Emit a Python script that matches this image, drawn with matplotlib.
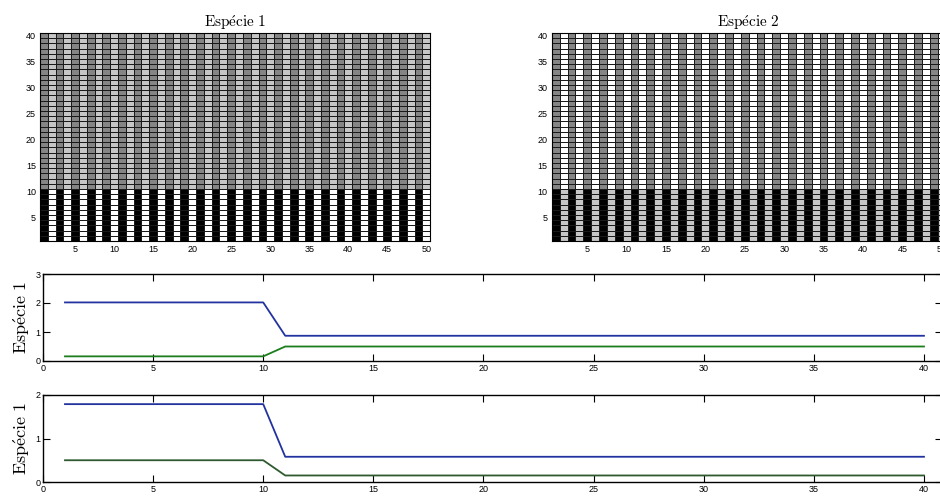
import matplotlib
matplotlib.use('Agg')
import matplotlib.pyplot as plt
from matplotlib.colors import ListedColormap
import numpy as np

plt.rcParams['mathtext.fontset'] = 'cm'
plt.rcParams['font.family'] = ['Liberation Sans', 'DejaVu Sans']

# grade de ocupacao: 40 linhas x 50 colunas
n_linhas = 40
n_colunas = 50
linha_fronteira = 10  # linhas 1..10 = regiao de baixo

# codigo de cor por coluna (impar, par): 0 preto, 1 cinza escuro, 2 cinza claro, 3 branco
esp1_baixo = [0, 3]
esp1_cima = [1, 2]
esp2_baixo = [0, 2]
esp2_cima = [1, 3]

# series temporais (pontos de quebra; constantes entre eles)
t_pontos = [1, 10, 11, 40]
esp1_azul = [2.02, 2.02, 0.87, 0.87]
esp1_verde = [0.16, 0.16, 0.50, 0.50]
esp2_azul = [1.79, 1.79, 0.58, 0.58]
esp2_verde = [0.50, 0.50, 0.15, 0.15]

cores_grade = ListedColormap(['#000000', '#858585', '#c6c6c6', '#ffffff'])


def montar_grade(baixo, cima):
    grade = np.zeros((n_linhas, n_colunas))
    for j in range(n_colunas):
        grade[:linha_fronteira, j] = baixo[j % 2]
        grade[linha_fronteira:, j] = cima[j % 2]
    return grade


def desenhar_grade(ax, grade, titulo):
    ax.pcolormesh(np.arange(0.5, n_colunas + 1), np.arange(0.5, n_linhas + 1), grade,
                  cmap=cores_grade, vmin=-0.5, vmax=3.5,
                  edgecolors='#1a1a1a', linewidth=0.6)
    ax.set_xlim(0.5, n_colunas + 0.5)
    ax.set_ylim(0.5, n_linhas + 0.5)
    ax.set_xticks(np.arange(5, 51, 5))
    ax.set_yticks(np.arange(5, 41, 5))
    ax.tick_params(direction='in', length=0, labelsize=6.5, pad=3)
    ax.set_title(r'$\mathrm{' + titulo + '}$', fontsize=11, pad=4)
    for s in ax.spines.values():
        s.set_linewidth(0.8)


def desenhar_serie(ax, azul, verde, cor_verde, ymax):
    ax.plot(t_pontos, azul, color='#2233a0', lw=1.3)
    ax.plot(t_pontos, verde, color=cor_verde, lw=1.3)
    ax.set_xlim(0, 40.8)
    ax.set_ylim(0, ymax)
    ax.set_xticks(np.arange(0, 41, 5))
    ax.set_yticks(np.arange(0, ymax + 1, 1))
    ax.tick_params(direction='in', length=5, width=0.8, labelsize=6.5, pad=2,
                   top=True, right=True)
    ax.set_ylabel(r'$\mathrm{Esp\acute{e}cie\ 1}$', fontsize=13, labelpad=2)
    for s in ax.spines.values():
        s.set_linewidth(1.0)


fig = plt.figure(figsize=(9.4, 5.0), dpi=100)

ax1 = fig.add_axes([0.0426, 0.518, 0.415, 0.416])
ax2 = fig.add_axes([0.587, 0.518, 0.419, 0.416])
ax3 = fig.add_axes([0.0457, 0.278, 0.956, 0.174])
ax4 = fig.add_axes([0.0457, 0.036, 0.956, 0.174])

desenhar_grade(ax1, montar_grade(esp1_baixo, esp1_cima), r'Esp\acute{e}cie\ 1')
desenhar_grade(ax2, montar_grade(esp2_baixo, esp2_cima), r'Esp\acute{e}cie\ 2')

desenhar_serie(ax3, esp1_azul, esp1_verde, '#1b7d1b', 3)
desenhar_serie(ax4, esp2_azul, esp2_verde, '#2f5a2f', 2)

fig.savefig('out.png', dpi=100)
